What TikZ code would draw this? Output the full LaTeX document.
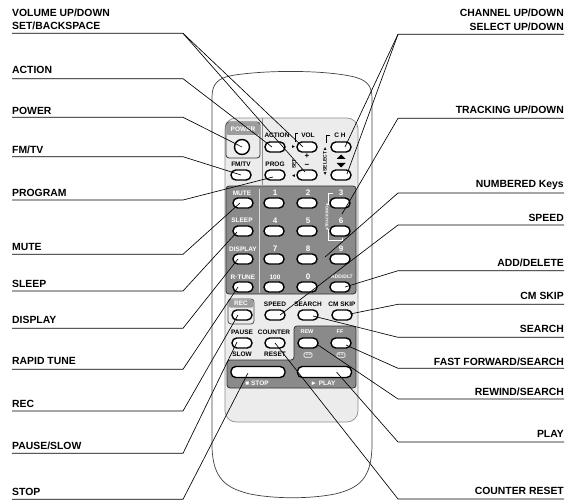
\documentclass[tikz,border=0pt]{standalone}
\usepackage{fontspec}
\setmainfont{Liberation Sans}
\usepackage{tikz}
\usetikzlibrary{calc}
\definecolor{plategray}{HTML}{ECECEC}
\definecolor{panelgray}{HTML}{8A8A8A}
\definecolor{stripgray}{HTML}{9C9C9C}

\begin{document}
\begin{tikzpicture}[
  x=1pt, y=-1pt,
  lbl/.style={inner sep=0pt, anchor=base west, font=\fontsize{10.4}{12}\selectfont\bfseries},
  rlbl/.style={inner sep=0pt, anchor=base east, font=\fontsize{10.4}{12}\selectfont\bfseries},
  key/.style={rectangle, draw=black, fill=white, line width=1.4pt, rounded corners=4.8pt,
              minimum width=20pt, minimum height=10pt, inner sep=0pt},
  bigkey/.style={key, minimum width=54pt, minimum height=11pt},
  txt/.style={inner sep=0pt, font=\fontsize{6.5}{7}\selectfont\bfseries},
  wtxt/.style={txt, text=white},
  numtxt/.style={wtxt, font=\fontsize{8}{8}\selectfont\bfseries},
  icon/.style={rectangle, draw=white, fill=panelgray, rounded corners=1pt, line width=0.6pt,
               minimum width=8pt, minimum height=4.5pt, inner sep=0pt,
               text=white, font=\fontsize{3}{3}\selectfont},
  lead/.style={draw=black, line width=0.65pt}
]
  \useasboundingbox (0,0) rectangle (565,500);
  % body and face plate
  \draw[black!75, line width=0.7pt] (212,447) -- (212,97) .. controls (212,84) and (218,78) .. (232,75.5)
    .. controls (265,70) and (320,70) .. (350,76) .. controls (365,79) and (372,84) .. (372,98)
    -- (372,447) .. controls (371,478) and (360,488) .. (335,494) .. controls (310,499) and (275,499) .. (250,494)
    .. controls (225,488) and (213,478) .. (212,447);
  \draw[draw=black!45, fill=plategray, rounded corners=11pt, line width=0.7pt] (225,118) rectangle (358,422);
  \draw[draw=black!45, line width=0.7pt] (262,118) -- (262,185);

  % power box
  \draw[draw=black!80, line width=0.8pt, rounded corners=3pt] (226,122) rectangle (260,158);
  \fill[stripgray, rounded corners=2pt] (226.5,122.5) rectangle (259.5,135);
  \node[wtxt] (tpower) at (243,129) {POWER};
  \node[circle, draw=black, fill=white, line width=1.4pt, minimum size=15pt, inner sep=0pt] (power) at (242,147) {};

  % upper keys
  \node[key] (fmtv) at (241,175) {};
  \node[key] (prog) at (275,175) {};
  \node[key] (action) at (275,147) {};
  \node[key] (vol) at (307,147) {};
  \node[key] (set) at (307,175) {};
  \node[key] (chup) at (341,147) {};
  \node[key] (chdn) at (341,175) {};
  \node[txt] (tfmtv) at (241,164.5) {FM/TV};
  \node[txt] (tprog) at (275,164.5) {PROG};
  \node[txt] (taction) at (277,135) {ACTION};
  \node[txt] (tvol) at (308,135) {VOL};
  \node[txt] (tch) at (340,135) {C H};
  \node[inner sep=0pt, font=\fontsize{8}{8}\selectfont\bfseries] (tplus) at (307,156.5) {+};
  \node[inner sep=0pt, font=\fontsize{8}{8}\selectfont\bfseries] (tminus) at (307,165.5) {−};
  \node[txt, rotate=90, font=\fontsize{5}{5}\selectfont\bfseries] (tset) at (294,164) {SET};
  \node[txt, rotate=90, font=\fontsize{5}{5}\selectfont\bfseries] (tselect) at (325,161.5) {◄SELECT►};
  \node[txt, font=\fontsize{5}{5}\selectfont] (tright) at (293.5,147) {►};
  \node[txt, font=\fontsize{5}{5}\selectfont] (tleft) at (293.5,176) {◄};
  \draw[black, line width=0.6pt] (298,133) -- (295,133) -- (295,142);
  \draw[black, line width=0.6pt] (330,135) -- (326,135) -- (326,143);
  \fill[black] (336.5,159) -- (345.5,159) -- (341,154.5) -- cycle;
  \fill[black] (336.5,163) -- (345.5,163) -- (341,167.5) -- cycle;

  % number panel
  \draw[draw=black!80, fill=panelgray, rounded corners=3pt, line width=0.8pt] (226,186) rectangle (356,294);
  \draw[draw=white!85!black, line width=0.9pt] (259,189) -- (259,293);
  \node[key] (mute) at (243,203) {};
  \node[key] (one) at (274,203) {};
  \node[key] (two) at (307,203) {};
  \node[key] (three) at (340,203) {};
  \node[key] (sleep) at (243,231) {};
  \node[key] (four) at (274,231) {};
  \node[key] (five) at (307,231) {};
  \node[key] (six) at (340,231) {};
  \node[key] (display) at (243,259) {};
  \node[key] (seven) at (274,259) {};
  \node[key] (eight) at (307,259) {};
  \node[key] (nine) at (340,259) {};
  \node[key] (rtune) at (243,287) {};
  \node[key] (hundred) at (274,287) {};
  \node[key] (zero) at (307,287) {};
  \node[key] (adddlt) at (340,287) {};
  \node[wtxt] (tmute) at (242,193) {MUTE};
  \node[wtxt] (tsleep) at (242,220.5) {SLEEP};
  \node[wtxt] (tdisplay) at (243,249) {DISPLAY};
  \node[wtxt] (trtune) at (243,277) {R·TUNE};
  \node[numtxt] (tone) at (275,193) {1};
  \node[numtxt] (ttwo) at (308,193) {2};
  \node[numtxt] (tthree) at (341,193) {3};
  \node[numtxt] (tfour) at (275,221) {4};
  \node[numtxt] (tfive) at (308,221) {5};
  \node[numtxt] (tsix) at (341,221) {6};
  \node[numtxt] (tseven) at (275,249) {7};
  \node[numtxt] (teight) at (308,249) {8};
  \node[numtxt] (tnine) at (341,249) {9};
  \node[wtxt] (thundred) at (275,277) {100};
  \node[numtxt] (tzero) at (308,277) {0};
  \node[wtxt, font=\fontsize{5}{5}\selectfont\bfseries] (tadddlt) at (342,277) {ADD/DLT};
  \node[wtxt, rotate=90, font=\fontsize{4}{4}\selectfont\bfseries] (ttrack) at (327,217) {◄TRACKING►};
  \draw[white, line width=0.6pt] (333,193) -- (328,193) -- (328,205);
  \draw[white, line width=0.6pt] (328,229) -- (328,240) -- (342,240) -- (342,238);

  % rec box and middle keys
  \draw[draw=black!70, line width=0.8pt, rounded corners=3pt] (228,299) rectangle (254,324);
  \fill[stripgray, rounded corners=2pt] (228.5,299.5) rectangle (253.5,307.5);
  \node[wtxt] (trec) at (241,303.5) {REC};
  \node[key] (rec) at (242,315) {};
  \node[key] (speed) at (275,315) {};
  \node[key] (search) at (308,315) {};
  \node[key] (cmskip) at (342,315) {};
  \node[key] (pause) at (242,343) {};
  \node[key] (counter) at (275,343) {};
  \node[txt] (tspeed) at (275,304) {SPEED};
  \node[txt] (tsearch) at (308,304) {SEARCH};
  \node[txt] (tcmskip) at (342,304) {CM SKIP};
  \node[txt] (tpause) at (242,332) {PAUSE};
  \node[txt] (tslow) at (242,354) {SLOW};
  \node[txt] (tcounter) at (274,332) {COUNTER};
  \node[txt] (treset) at (275,354) {RESET};

  % transport panel
  \draw[draw=black!80, fill=panelgray, rounded corners=3pt, line width=0.8pt]
    (294,326) -- (356,326) -- (356,388) -- (227,388) -- (227,360) -- (294,360) -- cycle;
  \node[key] (rew) at (308,343) {};
  \node[key] (ff) at (341,343) {};
  \node[bigkey] (stop) at (258,372) {};
  \node[bigkey] (play) at (324.5,372) {};
  \node[wtxt, font=\fontsize{5.5}{6}\selectfont\bfseries] (trew) at (307,332) {REW};
  \node[wtxt, font=\fontsize{5.5}{6}\selectfont\bfseries] (tff) at (340,332) {FF};
  \node[icon] (irew) at (308,355) {◄◄};
  \node[icon] (iff) at (341,355) {►►};
  \node[wtxt] (tstop) at (257,383) {■ STOP};
  \node[wtxt] (tplay) at (323,383) {► PLAY};

  % left labels and leaders
  \node[lbl] (lvol) at (12,16.7) {VOLUME UP/DOWN};
  \node[lbl] (lset) at (12,30) {SET/BACKSPACE};
  \coordinate (evol) at (183,33.3);
  \draw[lead] (lset.base west |- evol) -- (evol) -- ([shift={(-4,0)}]vol.center);
  \draw[lead] (evol) -- ([shift={(-2,-3)}]set.center);
  \node[lbl] (laction) at (12,74) {ACTION};
  \coordinate (eaction) at (183,78.7);
  \draw[lead] (laction.base west |- eaction) -- (eaction) -- ([shift={(-3,0)}]action.center);
  \node[lbl] (lpower) at (12,114.7) {POWER};
  \coordinate (epower) at (183,117.3);
  \draw[lead] (lpower.base west |- epower) -- (epower) -- (power.center);
  \node[lbl] (lfmtv) at (12,153.7) {FM/TV};
  \coordinate (efmtv) at (183,156.7);
  \draw[lead] (lfmtv.base west |- efmtv) -- (efmtv) -- (fmtv.center);
  \node[lbl] (lprog) at (12,196.4) {PROGRAM};
  \coordinate (eprog) at (183,200);
  \draw[lead] (lprog.base west |- eprog) -- (eprog) -- ([shift={(-2,2)}]prog.center);
  \node[lbl] (lmute) at (12,250.7) {MUTE};
  \coordinate (emute) at (183,254.3);
  \draw[lead] (lmute.base west |- emute) -- (emute) -- ([shift={(-3,0)}]mute.center);
  \node[lbl] (lsleep) at (12,287.7) {SLEEP};
  \coordinate (esleep) at (183,291);
  \draw[lead] (lsleep.base west |- esleep) -- (esleep) -- ([shift={(-6,1)}]sleep.center);
  \node[lbl] (ldisplay) at (12,323.7) {DISPLAY};
  \coordinate (edisplay) at (183,328.3);
  \draw[lead] (ldisplay.base west |- edisplay) -- (edisplay) -- ([shift={(-5,0)}]display.center);
  \node[lbl] (lrtune) at (12,364.7) {RAPID TUNE};
  \coordinate (ertune) at (183,369.3);
  \draw[lead] (lrtune.base west |- ertune) -- (ertune) -- ([shift={(-5,0)}]rtune.center);
  \node[lbl] (lrec) at (12,407.7) {REC};
  \coordinate (erec) at (183,411);
  \draw[lead] (lrec.base west |- erec) -- (erec) -- ([shift={(-4,0)}]rec.center);
  \node[lbl] (lpause) at (12,449.4) {PAUSE/SLOW};
  \coordinate (epause) at (183,453.3);
  \draw[lead] (lpause.base west |- epause) -- (epause) -- ([shift={(-5,-1)}]pause.center);
  \node[lbl] (lstop) at (12,495.4) {STOP};
  \coordinate (estop) at (183,499.3);
  \draw[lead] (lstop.base west |- estop) -- (estop) -- ([shift={(-10,1)}]stop.center);

  % right labels and leaders
  \node[rlbl] (lch) at (564,16.7) {CHANNEL UP/DOWN};
  \node[rlbl] (lsel) at (564,30.2) {SELECT UP/DOWN};
  \coordinate (ech) at (398,34.3);
  \draw[lead] (lsel.base east |- ech) -- (ech) -- ([shift={(4,0)}]chup.center);
  \draw[lead] (ech) -- ([shift={(6,-1)}]chdn.center);
  \node[rlbl] (ltrack) at (564,113.7) {TRACKING UP/DOWN};
  \coordinate (etrack) at (398,118.3);
  \draw[lead] (ltrack.base east |- etrack) -- (etrack) -- ([shift={(2,11)}]three.center);
  \node[rlbl] (lnum) at (564,187) {NUMBERED Keys};
  \coordinate (enum) at (398,193);
  \draw[lead] (lnum.base east |- enum) -- (enum) -- ([shift={(-15,-2)}]nine.center);
  \node[rlbl] (lspeed) at (564,221) {SPEED};
  \coordinate (espeed) at (398,225);
  \draw[lead] (lspeed.base east |- espeed) -- (espeed) -- ([shift={(5,0)}]speed.center);
  \node[rlbl] (ladd) at (564,266.4) {ADD/DELETE};
  \coordinate (eadd) at (398,270.7);
  \draw[lead] (ladd.base east |- eadd) -- (eadd) -- ([shift={(5,0)}]adddlt.center);
  \node[rlbl] (lcm) at (564,299.7) {CM SKIP};
  \coordinate (ecm) at (398,304.3);
  \draw[lead] (lcm.base east |- ecm) -- (ecm) -- ([shift={(8,-1)}]cmskip.center);
  \node[rlbl] (lsearch) at (564,332.7) {SEARCH};
  \coordinate (esearch) at (398,337.3);
  \draw[lead] (lsearch.base east |- esearch) -- (esearch) -- ([shift={(5,1)}]search.center);
  \node[rlbl] (lff) at (564,365.4) {FAST FORWARD/SEARCH};
  \coordinate (eff) at (398,368.3);
  \draw[lead] (lff.base east |- eff) -- (eff) -- ([shift={(5,2)}]ff.center);
  \node[rlbl] (lrew) at (564,395.7) {REWIND/SEARCH};
  \coordinate (erew) at (398,399);
  \draw[lead] (lrew.base east |- erew) -- (erew) -- ([shift={(10,2)}]rew.center);
  \node[rlbl] (lplay) at (564,437.7) {PLAY};
  \coordinate (eplay) at (398,442);
  \draw[lead] (lplay.base east |- eplay) -- (eplay) -- ([shift={(12,0)}]play.center);
  \node[rlbl] (lcounter) at (564,494.7) {COUNTER RESET};
  \coordinate (ecounter) at (398,499);
  \draw[lead] (lcounter.base east |- ecounter) -- (ecounter) -- (counter.center);
\end{tikzpicture}
\end{document}
